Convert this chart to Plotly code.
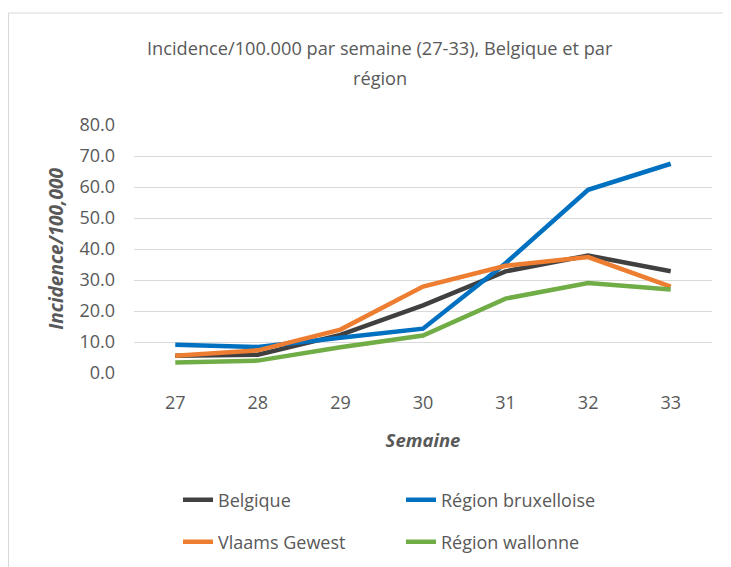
import plotly.graph_objects as go

weeks = ["27", "28", "29", "30", "31", "32", "33"]
belgique = [5.6, 5.9, 12.3, 21.8, 32.8, 37.9, 32.8]
bruxelles = [9.1, 8.4, 11.4, 14.3, 35.4, 59.1, 67.5]
vlaams = [5.6, 7.3, 14.0, 27.9, 34.6, 37.4, 27.9]
wallonne = [3.4, 4.0, 8.3, 12.1, 24.0, 29.0, 26.9]
title_lines = ["Incidence/100.000 par semaine (27-33), Belgique et par", "région"]

series = [
    ("Belgique", belgique, "#404040", "legend"),
    ("Région bruxelloise", bruxelles, "#0070C0", "legend"),
    ("Vlaams Gewest", vlaams, "#ED7D31", "legend2"),
    ("Région wallonne", wallonne, "#70AD47", "legend2"),
]

FONT = "Open Sans"
GREY = "#595959"

fig = go.Figure()
for name, vals, col, leg in series:
    fig.add_trace(go.Scatter(x=weeks, y=vals, name=name, mode="lines",
                             line=dict(color=col, width=4.5), legend=leg))

W, H = 731, 567
L, R, T, B = 126, 27, 117, 202
pw, ph = W - L - R, H - T - B


def px(x):
    return (x - L) / pw


def py(y):
    return (H - B - y) / ph


fig.update_layout(
    width=W, height=H,
    margin=dict(l=L, r=R, t=T, b=B),
    paper_bgcolor="white", plot_bgcolor="white",
    font=dict(family=FONT, color=GREY, size=16),
    xaxis=dict(type="category", range=[-0.5, len(weeks) - 0.5],
               showgrid=False, zeroline=False, showline=False,
               ticks="", tickfont=dict(size=18, color=GREY), ticklabelstandoff=17,
               title=dict(text="<b><i>Semaine</i></b>", standoff=21,
                          font=dict(size=18.5, color=GREY))),
    yaxis=dict(range=[0, 80], dtick=10, tickformat=".1f", showgrid=True,
               gridcolor="#D9D9D9", gridwidth=1.3, zeroline=False, showline=False,
               ticks="", tickfont=dict(size=18, color=GREY), ticklabelstandoff=18,
               title=dict(text="<b><i>Incidence/100,000</i></b>", standoff=10,
                          font=dict(size=19, color=GREY))),
    legend=dict(orientation="h", xref="container", yref="container",
                x=170 / W, xanchor="left", y=1 - 492 / H, yanchor="middle",
                entrywidth=178, font=dict(size=18, color=GREY),
                bgcolor="rgba(0,0,0,0)"),
    legend2=dict(orientation="h", xref="container", yref="container",
                 x=170 / W, xanchor="left", y=1 - 534 / H, yanchor="middle",
                 entrywidth=178, font=dict(size=18, color=GREY),
                 bgcolor="rgba(0,0,0,0)"),
    showlegend=True,
)

for i, line in enumerate(title_lines):
    fig.add_annotation(text=line, xref="paper", yref="paper",
                       x=px(372), y=py(40 + 30 * i), xanchor="center", yanchor="middle",
                       showarrow=False, font=dict(family=FONT, size=18.2, color=GREY))

fig.add_shape(type="rect", xref="paper", yref="paper",
              x0=px(0.5), x1=px(W + 5),
              y0=py(H + 5), y1=py(5),
              line=dict(color="#D9D9D9", width=1), fillcolor="rgba(0,0,0,0)",
              layer="below")

fig.write_html("out.html")
